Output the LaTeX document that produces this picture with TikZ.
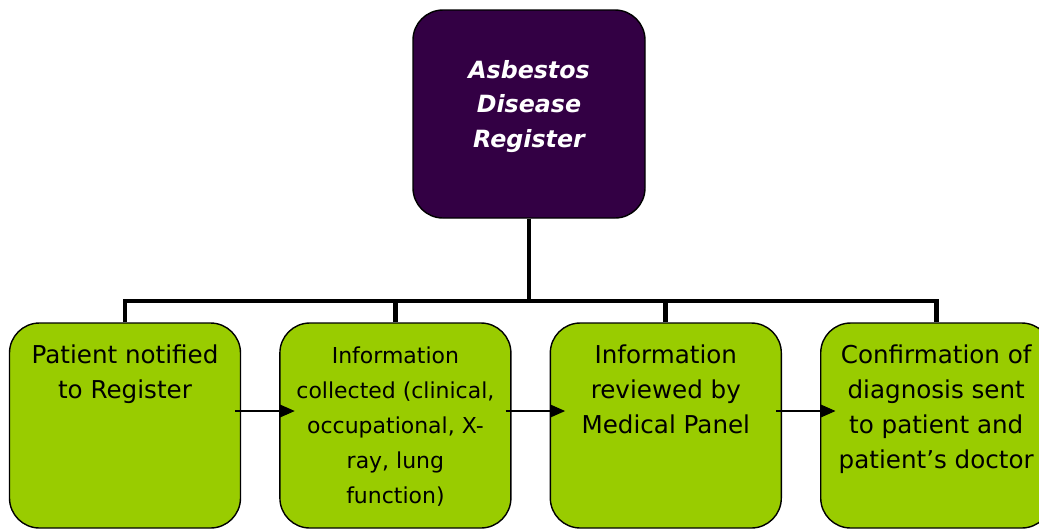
\documentclass[tikz,border=0pt]{standalone}
\usepackage{fontspec}
\setmainfont{DejaVu Sans}
\usetikzlibrary{positioning,arrows.meta}
\definecolor{registerpurple}{RGB}{51,0,68}
\definecolor{stepgreen}{RGB}{153,204,0}
\newcommand{\steptext}[2]{\parbox[c][4.1cm][t]{4.5cm}{\centering\fontsize{#1}{19.9}\selectfont\rule{0pt}{0.81cm}#2}}
\begin{document}
\begin{tikzpicture}[
    register/.style={rectangle, draw=black, fill=registerpurple, text=white, rounded corners=0.6cm, line width=0.8pt, minimum width=4.64cm, minimum height=4.16cm, inner sep=0pt},
    stepbox/.style={rectangle, draw=black, fill=stepgreen, rounded corners=0.6cm, line width=0.8pt, minimum width=4.62cm, minimum height=4.1cm, inner sep=0pt},
    trunk/.style={line width=2.8pt},
    flow/.style={-{Triangle[length=0.3cm,width=0.26cm]}, line width=0.6pt},
    node distance=0.76cm
  ]
  \useasboundingbox (0,0) rectangle (20.78,-10.58);
  \node[register] (reg) at (10.58,-2.28) {\parbox[c][4.16cm][t]{4.5cm}{\centering\bfseries\itshape\fontsize{13.5}{19.9}\selectfont\rule{0pt}{1.36cm}Asbestos\\Disease\\Register}};
  \node[stepbox] (notified) at (2.5,-8.51) {\steptext{14}{Patient notified\\to Register}};
  \node[stepbox, right=of notified] (collected) {\steptext{12.5}{Information\\collected (clinical,\\occupational, X-\\ray, lung\\function)}};
  \node[stepbox, right=of collected] (reviewed) {\steptext{14}{Information\\reviewed by\\Medical Panel}};
  \node[stepbox, right=of reviewed] (confirmed) {\steptext{14}{Confirmation of\\diagnosis sent\\to patient and\\patient’s doctor}};

  % tree from the register down to the four steps
  \coordinate (bus) at (0,-6.02);
  \draw[trunk] (reg.south) -- (reg.south |- bus);
  \draw[trunk] (notified.north) -- (notified.north |- bus) -- (confirmed.north |- bus) -- (confirmed.north);
  \foreach \s in {collected,reviewed}
    \draw[trunk] (\s.north) -- (\s.north |- bus);

  % arrows between the steps
  \foreach \a/\b in {notified/collected,collected/reviewed,reviewed/confirmed}
    \draw[flow] ([xshift=-0.12cm, yshift=0.29cm]\a.east) -- ([xshift=0.31cm, yshift=0.29cm]\b.west);
\end{tikzpicture}
\end{document}
